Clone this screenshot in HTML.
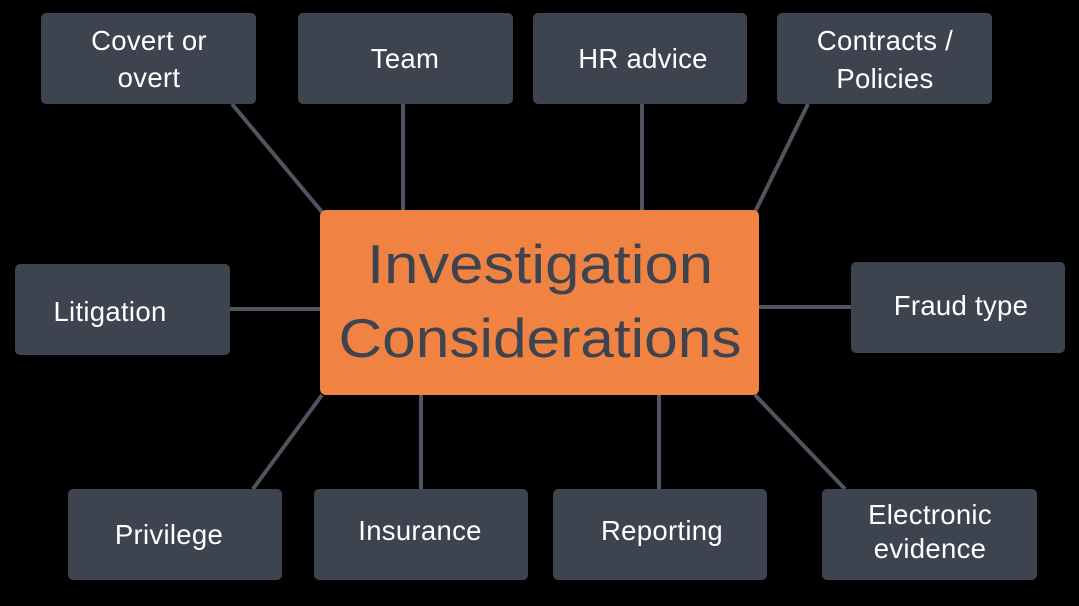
<!DOCTYPE html>
<html><head><meta charset="utf-8"><style>
html,body{margin:0;padding:0;background:#000;}
svg{display:block}
</style></head><body>
<svg width="1079" height="606" viewBox="0 0 1079 606" xmlns="http://www.w3.org/2000/svg">
<rect width="1079" height="606" fill="#000"/>
<g stroke="#4e5460" stroke-width="4">
<line x1="232" y1="104" x2="322" y2="212"/>
<line x1="403" y1="104" x2="403" y2="210"/>
<line x1="642" y1="104" x2="642" y2="210"/>
<line x1="808" y1="104" x2="755" y2="212"/>
<line x1="230" y1="309" x2="320" y2="309"/>
<line x1="759" y1="307" x2="851" y2="307"/>
<line x1="253" y1="489" x2="322" y2="395"/>
<line x1="421" y1="395" x2="421" y2="489"/>
<line x1="659" y1="395" x2="659" y2="489"/>
<line x1="755" y1="395" x2="845" y2="489"/>
</g>
<g fill="#3e4350">
<rect x="41" y="13" width="215" height="91" rx="5"/>
<rect x="298" y="13" width="215" height="91" rx="5"/>
<rect x="533" y="13" width="214" height="91" rx="5"/>
<rect x="777" y="13" width="215" height="91" rx="5"/>
<rect x="15" y="264" width="215" height="91" rx="5"/>
<rect x="851" y="262" width="214" height="91" rx="5"/>
<rect x="68" y="489" width="214" height="91" rx="5"/>
<rect x="314" y="489" width="214" height="91" rx="5"/>
<rect x="553" y="489" width="214" height="91" rx="5"/>
<rect x="822" y="489" width="215" height="91" rx="5"/>
</g>
<rect x="320" y="210" width="439" height="185" rx="6" fill="#f08341"/>
<g font-family="Liberation Sans, sans-serif" fill="#fff" font-size="27.5" text-anchor="middle" letter-spacing="0.3">
<text x="149" y="50">Covert or</text>
<text x="149" y="87">overt</text>
<text x="405" y="68">Team</text>
<text x="643" y="68">HR advice</text>
<text x="885" y="50">Contracts /</text>
<text x="885" y="88">Policies</text>
<text x="110" y="321">Litigation</text>
<text x="961" y="315">Fraud type</text>
<text x="169" y="544">Privilege</text>
<text x="420" y="540">Insurance</text>
<text x="662" y="540">Reporting</text>
<text x="930" y="524">Electronic</text>
<text x="930" y="558">evidence</text>
</g>
<g font-family="Liberation Sans, sans-serif" fill="#3d4450" font-size="55" text-anchor="middle">
<text x="540" y="283" textLength="346" lengthAdjust="spacingAndGlyphs">Investigation</text>
<text x="540" y="357" textLength="403" lengthAdjust="spacingAndGlyphs">Considerations</text>
</g>
</svg>
</body></html>
